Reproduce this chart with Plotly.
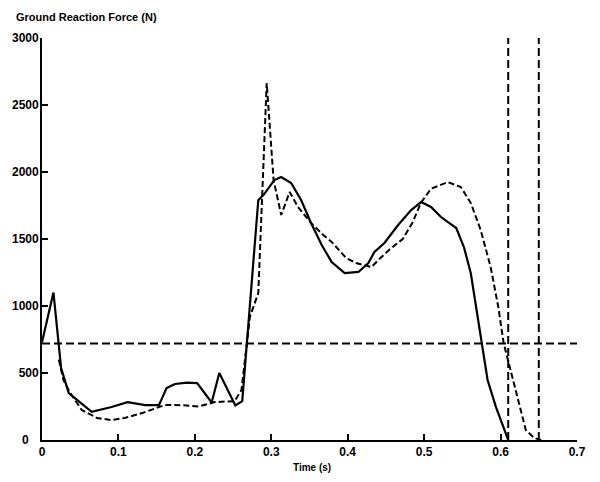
import plotly.graph_objects as go

# Solid curve
t_solid = [0.0, 0.015, 0.025, 0.035, 0.065, 0.091, 0.112, 0.135, 0.153, 0.163, 0.174, 0.190, 0.203,
           0.222, 0.232, 0.253, 0.262, 0.283, 0.290, 0.304, 0.313, 0.326, 0.339, 0.352, 0.366,
           0.379, 0.396, 0.414, 0.427, 0.435, 0.448, 0.466, 0.483, 0.496, 0.509, 0.522, 0.542,
           0.552, 0.561, 0.572, 0.583, 0.594, 0.610]
f_solid = [730, 1100, 537, 350, 210, 246, 283, 260, 260, 388, 418, 428, 425,
           280, 500, 258, 290, 1790, 1830, 1940, 1963, 1918, 1791, 1619, 1455,
           1328, 1246, 1254, 1321, 1403, 1470, 1604, 1716, 1776, 1739, 1664, 1582,
           1440, 1246, 843, 448, 246, 0]

# Dashed curve
t_dash = [0.022, 0.028, 0.037, 0.052, 0.072, 0.091, 0.108, 0.131, 0.153, 0.161, 0.183, 0.205,
          0.226, 0.252, 0.261, 0.272, 0.283, 0.294, 0.303, 0.313, 0.324, 0.335, 0.352,
          0.368, 0.379, 0.398, 0.411, 0.431, 0.440, 0.454, 0.472, 0.485, 0.496, 0.509,
          0.531, 0.548, 0.561, 0.574, 0.587, 0.597, 0.604, 0.614, 0.623, 0.633, 0.644, 0.653]
f_dash = [600, 448, 350, 224, 164, 149, 164, 201, 246, 261, 260, 250,
          283, 290, 373, 918, 1097, 2664, 1940, 1679, 1851, 1739, 1619,
          1530, 1478, 1358, 1321, 1291, 1343, 1418, 1500, 1625, 1772, 1875,
          1925, 1888, 1769, 1567, 1291, 993, 724, 500, 299, 75, 15, 0]

threshold = 720
event_times = [0.61, 0.65]
x_ticks = [0, 0.1, 0.2, 0.3, 0.4, 0.5, 0.6, 0.7]
x_ticklabels = ["0", "0.1", "0.2", "0.3", "0.4", "0.5", "0.6", "0.7"]
y_ticks = [0, 500, 1000, 1500, 2000, 2500, 3000]
y_ticklabels = ["0", "500", "1000", "1500", "2000", "2500", "3000"]

NB = "\u00a0"
y_ticktext = [lab + NB * (4 if lab == "0" else 1) for lab in y_ticklabels]

fig = go.Figure()
fig.add_trace(go.Scatter(x=t_solid, y=f_solid, mode="lines",
                         line=dict(color="black", width=2.2)))
fig.add_trace(go.Scatter(x=t_dash, y=f_dash, mode="lines",
                         line=dict(color="black", width=2, dash="6px,3px")))
fig.add_trace(go.Scatter(x=[0, 0.7], y=[threshold, threshold], mode="lines",
                         line=dict(color="black", width=2, dash="8px,4px")))
for et in event_times:
    fig.add_trace(go.Scatter(x=[et, et], y=[0, 3000], mode="lines",
                             line=dict(color="black", width=2, dash="8px,4px")))
# invisible helper trace on a label-only y axis
fig.add_trace(go.Scatter(x=[0], y=[0], yaxis="y2", mode="lines",
                         line=dict(width=0), hoverinfo="skip"))

# page body adds an 8px offset; figure occupies 8..600 x 8..482
OFF = 8
W, H = 600 - OFF, 482 - OFF
L, T, R, B = 42 - OFF, 38 - OFF, 23, 42
pw = W - L - R
ph = H - T - B

tickfont = dict(size=12, family="Liberation Sans, Arial", weight="bold")

fig.update_layout(
    width=W, height=H,
    margin=dict(l=L, r=R, t=T, b=B),
    paper_bgcolor="white", plot_bgcolor="white",
    showlegend=False,
    font=dict(family="Liberation Sans, Arial, sans-serif", color="black"),
    xaxis=dict(range=[0, 0.7], tickvals=x_ticks, ticktext=x_ticklabels,
               showline=True, linecolor="black", linewidth=2, automargin=False,
               ticks="inside", ticklen=6, tickwidth=2, tickcolor="black",
               showgrid=False, zeroline=False, tickfont=tickfont),
    yaxis=dict(range=[0, 3000], tickvals=y_ticks, automargin=False,
               showline=True, linecolor="black", linewidth=2,
               ticks="inside", ticklen=6, tickwidth=2, tickcolor="black",
               showticklabels=False,
               showgrid=False, zeroline=False),
    yaxis2=dict(range=[0, 3000], tickvals=y_ticks, ticktext=y_ticktext,
                overlaying="y", anchor="free",
                position=0, side="left", automargin=False,
                showline=False, ticks="", showgrid=False, zeroline=False,
                tickfont=tickfont),
    annotations=[
        dict(text="<b>Ground Reaction Force (N)</b>", x=(14 - 42) / pw, y=(440 - 17) / ph,
             xref="paper", yref="paper",
             showarrow=False, font=dict(size=11), xanchor="left", yanchor="middle"),
        dict(text="<b>Time (s)</b>", x=(312 - 42) / pw, y=(440 - 468) / ph,
             xref="paper", yref="paper",
             showarrow=False, font=dict(size=10), xanchor="center", yanchor="middle"),
    ],
)

fig.write_html("out.html")
